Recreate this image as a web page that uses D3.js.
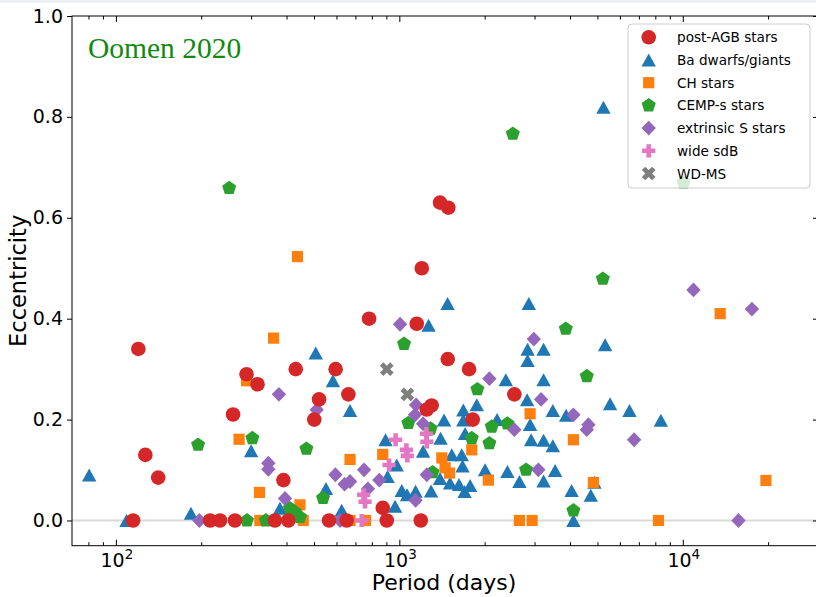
<!DOCTYPE html>
<html><head><meta charset="utf-8">
<script src="https://cdn.jsdelivr.net/npm/d3@7"></script>
<style>
html,body{margin:0;padding:0;background:#fff;}
svg{display:block;}
</style></head>
<body>
<svg id="chart" width="816" height="597"></svg>
<script>
// Orbital period (days) and eccentricity, one list per class of binary: [period, e]
const postAGB = [
  [115,0],[120,0.34],[127,0.13],[141,0.085],[215,0],[233,0],[263,0],[259,0.21],
  [289,0.29],[316,0.27],[364,0],[390,0.08],[406,0],[431,0.30],[501,0.20],[521,0.24],
  [565,0],[596,0.30],[652,0],[661,0.25],[782,0.40],[874,0.025],[903,0],[1152,0.39],
  [1190,0],[1200,0.50],[1250,0.22],[1300,0.228],[1392,0.63],[1489,0.62],[1482,0.32],
  [1762,0.30],[1816,0.20],[2546,0.25]
];
const baStars = [
  [80.5,0.09],[109,0],[184,0.014],[300,0.138],[379,0.024],[507,0.332],[551,0.063],
  [583,0.277],[626,0.02],[670,0.218],[894,0.16],[909,0.087],[966,0.028],[979,0.11],
  [1020,0.059],[1065,0.051],[1141,0.0575],[1213,0.137],[1268,0.387],[1294,0.058],
  [1398,0.163],[1392,0.083],[1438,0.199],[1480,0.43],[1510,0.074],[1531,0.13],
  [1624,0.071],[1660,0.13],[1671,0.108],[1682,0.219],[1682,0.199],[1699,0.057],
  [1706,0.172],[1777,0.069],[1876,0.229],[2007,0.1005],[2213,0.2],[2375,0.279],
  [2406,0.097],[2652,0.077],[2824,0.239],[2835,0.339],[2835,0.317],[2863,0.43],
  [2893,0.19],[2917,0.16],[3228,0.339],[3228,0.279],[3228,0.159],[3228,0.078],
  [3479,0.218],[3479,0.148],[3545,0.099],[3876,0.2085],[4053,0.059],[4113,0],
  [4737,0.05],[4879,0.0757],[5250,0.819],[5323,0.348],[5540,0.231],[6485,0.218],
  [8370,0.1986]
];
const chStars = [
  [272,0.161],[289,0.277],[321,0.0555],[322,0],[360,0.3615],[437,0.523],[446,0.031],
  [458,0],[670,0.121],[670,0],[760,0],[874,0.131],[1412,0.124],[1450,0.1045],
  [1504,0.094],[1801,0.14],[2061,0.08],[2652,0],[2893,0.2115],[2941,0],[4113,0.16],
  [4839,0.0753],[8208,0],[13552,0.41],[19653,0.0793]
];
const cempStars = [
  [195,0.15],[251,0.659],[290,0],[303,0.163],[338,0],[411,0.024],[428,0.017],
  [446,0.007],[470,0.142],[538,0.0444],[1039,0.35],[1076,0.193],[1289,0.182],
  [1310,0.0955],[1801,0.163],[1885,0.26],[2078,0.153],[2119,0.186],[2406,0.192],
  [2514,0.7665],[2800,0.1005],[3867,0.38],[4113,0.0198],[4586,0.286],[5224,0.479],
  [10058,0.67]
];
const sStars = [
  [197,0],[345,0.1134],[345,0.1015],[376,0.25],[395,0.0436],[511,0.2194],[595,0.0906],
  [618,0],[641,0.072],[670,0.0773],[751,0.1005],[775,0.0628],[850,0.08],[1006,0.389],
  [1146,0.229],[1136,0.2095],[1213,0.1917],[1141,0.04],[1250,0.0906],[2078,0.281],
  [2545,0.18],[2982,0.3596],[3094,0.1005],[3163,0.24],[4113,0.2095],[4647,0.19],
  [4586,0.18],[6735,0.16],[10910,0.457],[15726,0],[17538,0.419]
];
const sdbStars = [
  [737,0],[748,0.051],[757,0.037],[920,0.11],[970,0.16],[1059,0.14],[1067,0.128],
  [1246,0.172],[1250,0.156]
];
const wdmsStars = [[903,0.30],[1067,0.25]];

const legendLabels = ["post-AGB stars","Ba dwarfs/giants","CH stars","CEMP-s stars",
  "extrinsic S stars","wide sdB","WD-MS"];
const xMajorTicks = [100, 1000, 10000];
const xTickExponents = ["2", "3", "4"];
const xMinorTicks = [80, 90, 200, 300, 400, 500, 600, 700, 800, 900,
  2000, 3000, 4000, 5000, 6000, 7000, 8000, 9000, 20000];
const yTicks = [0.0, 0.2, 0.4, 0.6, 0.8, 1.0];

(function () {
  // marker outlines, centred on the origin
  const shapes = {
    circle: () => d3.symbol(d3.symbolCircle, Math.PI * 7.3 * 7.3)(),
    triangle: () => "M0,-6.6L7.2,6.4L-7.2,6.4Z",
    square: () => "M-5.6,-5.6H5.6V5.6H-5.6Z",
    pentagon: () => {
      const R = 7.4;
      return "M" + d3.range(5).map(k => {
        const a = (-90 + 72 * k) * Math.PI / 180;
        return [R * Math.cos(a), R * Math.sin(a)].map(v => v.toFixed(2)).join(",");
      }).join("L") + "Z";
    },
    diamond: () => "M0,-7.4L7.2,0L0,7.4L-7.2,0Z",
    plus: () => {
      const a = 6.6, t = 2.3;
      return `M${-t},${-a}H${t}V${-t}H${a}V${t}H${t}V${a}H${-t}V${t}H${-a}V${-t}H${-t}Z`;
    },
    cross: () => {
      const a = 7.3, t = 2.4;
      const pts = [[-t,-a],[t,-a],[t,-t],[a,-t],[a,t],[t,t],[t,a],[-t,a],[-t,t],[-a,t],[-a,-t],[-t,-t]];
      const c = Math.SQRT1_2;
      return "M" + pts.map(([px, py]) => [(px - py) * c, (px + py) * c].map(v => v.toFixed(2)).join(",")).join("L") + "Z";
    }
  };

  const series = [
    { label: legendLabels[0], data: postAGB,   color: "#d62728", shape: "circle",   z: 6 },
    { label: legendLabels[1], data: baStars,   color: "#1f77b4", shape: "triangle", z: 0 },
    { label: legendLabels[2], data: chStars,   color: "#ff7f0e", shape: "square",   z: 1 },
    { label: legendLabels[3], data: cempStars, color: "#2ca02c", shape: "pentagon", z: 2 },
    { label: legendLabels[4], data: sStars,    color: "#9467bd", shape: "diamond",  z: 3 },
    { label: legendLabels[5], data: sdbStars,  color: "#e377c2", shape: "plus",     z: 4 },
    { label: legendLabels[6], data: wdmsStars, color: "#7f7f7f", shape: "cross",    z: 5 }
  ];

  const svg = d3.select("#chart");
  const pLeft = 72, pRight = 818, pTop = 16, pBottom = 545.7;
  const x = d3.scaleLog().domain([70, 30000]).range([pLeft, pRight]);
  const y = d3.scaleLinear().domain([-0.05, 1.0]).range([pBottom, pTop]);
  const font = "DejaVu Sans, sans-serif";

  svg.append("rect").attr("width", 816).attr("height", 597).attr("fill", "#fff");
  svg.append("rect").attr("width", 816).attr("height", 3).attr("fill", "#eef0f5");

  // horizontal reference line at e = 0
  svg.append("line")
    .attr("x1", pLeft).attr("x2", pRight)
    .attr("y1", y(0)).attr("y2", y(0))
    .attr("stroke", "#d9d9d9").attr("stroke-width", 1.8);

  // scatter points
  const plot = svg.append("g");
  series.slice().sort((a, b) => a.z - b.z).forEach(s => {
    plot.append("g").selectAll("path").data(s.data).join("path")
      .attr("d", shapes[s.shape]())
      .attr("transform", d => `translate(${x(d[0])},${y(d[1])})`)
      .attr("fill", s.color);
  });

  // legend
  const lg = svg.append("g");
  lg.append("rect").attr("x", 628).attr("y", 24).attr("width", 182).attr("height", 164)
    .attr("rx", 4).attr("fill", "#fff").attr("fill-opacity", 0.8)
    .attr("stroke", "#cccccc").attr("stroke-width", 1);
  series.forEach((s, i) => {
    const cy = 37.3 + i * 22.7;
    lg.append("path").attr("d", shapes[s.shape]())
      .attr("transform", `translate(648.7,${cy})`).attr("fill", s.color);
    lg.append("text").attr("x", 677).attr("y", cy + 5)
      .attr("font-family", font).attr("font-size", 13.6).attr("fill", "#000")
      .text(s.label);
  });

  // axes
  const styleAxis = g => {
    g.select(".domain").remove();
    g.selectAll(".tick line").attr("stroke", "#000").attr("stroke-width", 1);
    g.selectAll(".tick text").attr("font-family", font).attr("font-size", 19).attr("fill", "#000");
  };
  svg.append("g").attr("transform", `translate(0,${pBottom})`)
    .call(d3.axisBottom(x).tickValues(xMajorTicks).tickSize(-6).tickFormat(() => ""))
    .call(styleAxis);
  svg.append("g").attr("transform", `translate(0,${pBottom})`)
    .call(d3.axisBottom(x).tickValues(xMinorTicks).tickSize(-3.5).tickFormat(() => ""))
    .call(styleAxis);
  svg.append("g").attr("transform", `translate(0,${pTop})`)
    .call(d3.axisTop(x).tickValues(xMajorTicks).tickSize(-6).tickFormat(() => ""))
    .call(styleAxis);
  svg.append("g").attr("transform", `translate(0,${pTop})`)
    .call(d3.axisTop(x).tickValues(xMinorTicks).tickSize(-3.5).tickFormat(() => ""))
    .call(styleAxis);
  svg.append("g").attr("transform", `translate(${pLeft},0)`)
    .call(d3.axisLeft(y).tickValues(yTicks).tickSize(5).tickPadding(4).tickFormat(d3.format(".1f")))
    .call(styleAxis);
  svg.append("g").attr("transform", `translate(${pRight},0)`)
    .call(d3.axisRight(y).tickValues(yTicks).tickSize(-5).tickFormat(() => ""))
    .call(styleAxis);

  // power-of-ten labels under the x axis
  xMajorTicks.forEach((v, i) => {
    const t = svg.append("text").attr("x", x(v) + 1).attr("y", 566.5)
      .attr("text-anchor", "middle").attr("font-family", font).attr("fill", "#000");
    t.append("tspan").attr("font-size", 19).text("10");
    t.append("tspan").attr("font-size", 13.5).attr("dy", -8).text(xTickExponents[i]);
  });

  // frame
  svg.append("rect").attr("x", pLeft).attr("y", pTop)
    .attr("width", pRight - pLeft).attr("height", pBottom - pTop)
    .attr("fill", "none").attr("stroke", "#000").attr("stroke-width", 1);

  // axis titles
  svg.append("text").attr("x", (pLeft + pRight) / 2 - 1).attr("y", 590)
    .attr("text-anchor", "middle").attr("font-family", font).attr("font-size", 22)
    .attr("fill", "#000").text("Period (days)");
  svg.append("text").attr("transform", `translate(26,${(pTop + pBottom) / 2}) rotate(-90)`)
    .attr("text-anchor", "middle").attr("font-family", font).attr("font-size", 22.5)
    .attr("fill", "#000").text("Eccentricity");

  // annotation
  svg.append("text").attr("x", 88).attr("y", 58)
    .attr("font-family", "Liberation Serif, Times New Roman, serif").attr("font-size", 29.5)
    .attr("fill", "#118a11").text("Oomen 2020");
})();
</script>
</body></html>
